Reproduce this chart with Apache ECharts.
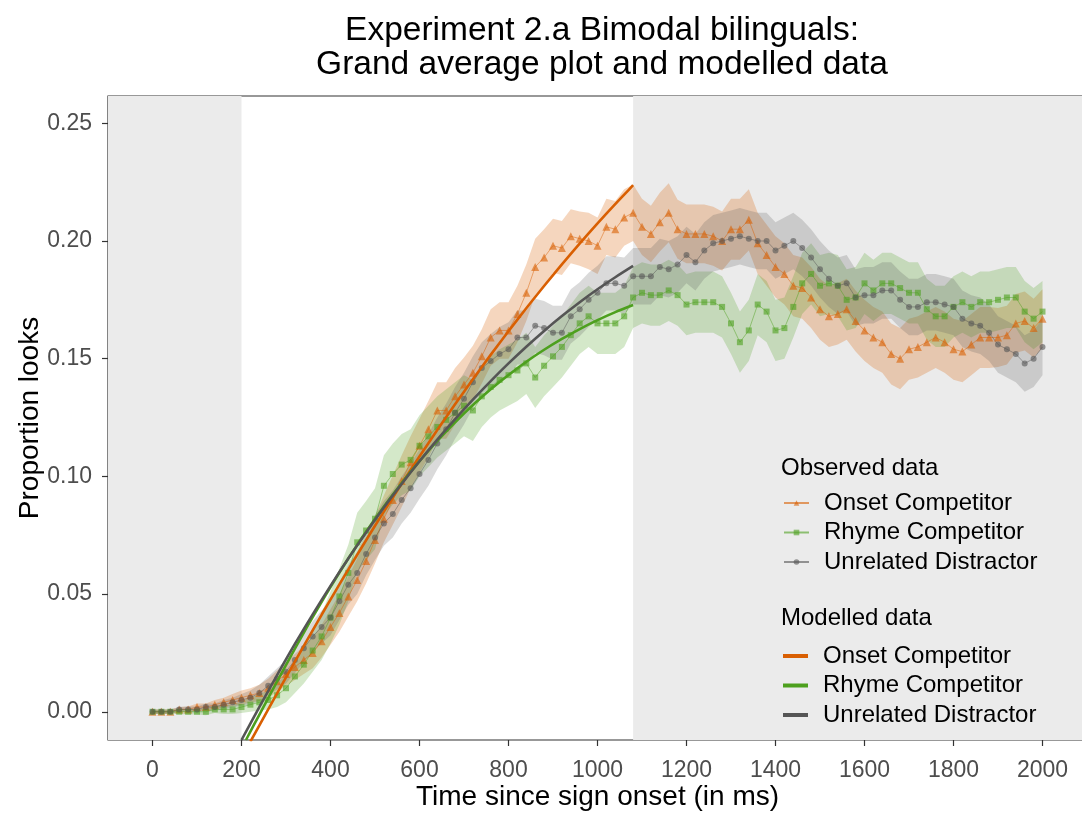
<!DOCTYPE html>
<html>
<head>
<meta charset="utf-8">
<script src="https://cdn.jsdelivr.net/npm/echarts@6.0.0/dist/echarts.min.js"></script>
<style>
  html, body { margin: 0; padding: 0; background: #fff; }
  #chart { width: 1082px; height: 813px; }
</style>
</head>
<body>
<div id="chart"></div>
<script>
// time bins of the observed data (ms)
var obsTime = [0, 20, 40, 60, 80, 100, 120, 140, 160, 180,
  200, 220, 240, 260, 280, 300, 320, 340, 360, 380,
  400, 420, 440, 460, 480, 500, 520, 540, 560, 580,
  600, 620, 640, 660, 680, 700, 720, 740, 760, 780,
  800, 820, 840, 860, 880, 900, 920, 940, 960, 980,
  1000, 1020, 1040, 1060, 1080, 1100, 1120, 1140, 1160, 1180,
  1200, 1220, 1240, 1260, 1280, 1300, 1320, 1340, 1360, 1380,
  1400, 1420, 1440, 1460, 1480, 1500, 1520, 1540, 1560, 1580,
  1600, 1620, 1640, 1660, 1680, 1700, 1720, 1740, 1760, 1780,
  1800, 1820, 1840, 1860, 1880, 1900, 1920, 1940, 1960, 1980, 2000]

var onsetObs = [0.000, 0.000, 0.000, 0.001, 0.001, 0.002, 0.002, 0.003, 0.004, 0.005,
  0.006, 0.007, 0.008, 0.010, 0.013, 0.016, 0.019, 0.022, 0.025, 0.030,
  0.036, 0.042, 0.049, 0.056, 0.064, 0.073, 0.082, 0.090, 0.098, 0.106,
  0.113, 0.120, 0.128, 0.128, 0.134, 0.139, 0.144, 0.151, 0.159, 0.162,
  0.162, 0.169, 0.178, 0.189, 0.193, 0.198, 0.197, 0.202, 0.201, 0.200,
  0.198, 0.206, 0.205, 0.210, 0.212, 0.206, 0.203, 0.208, 0.212, 0.205,
  0.203, 0.203, 0.203, 0.202, 0.200, 0.205, 0.205, 0.209, 0.199, 0.194,
  0.189, 0.186, 0.181, 0.180, 0.176, 0.171, 0.168, 0.169, 0.171, 0.166,
  0.162, 0.159, 0.157, 0.152, 0.150, 0.154, 0.155, 0.157, 0.159, 0.157,
  0.154, 0.153, 0.156, 0.159, 0.159, 0.159, 0.160, 0.165, 0.166, 0.163, 0.167]

var rhymeObs = [0.000, 0.000, 0.000, 0.000, 0.000, 0.000, 0.000, 0.001, 0.001, 0.001,
  0.002, 0.003, 0.004, 0.005, 0.007, 0.010, 0.015, 0.020, 0.026, 0.032,
  0.040, 0.049, 0.059, 0.072, 0.077, 0.082, 0.096, 0.101, 0.105, 0.107,
  0.113, 0.117, 0.121, 0.124, 0.127, 0.130, 0.128, 0.134, 0.138, 0.141,
  0.143, 0.145, 0.148, 0.142, 0.147, 0.151, 0.155, 0.160, 0.165, 0.168,
  0.165, 0.165, 0.165, 0.168, 0.176, 0.178, 0.177, 0.177, 0.179, 0.177,
  0.173, 0.174, 0.174, 0.174, 0.172, 0.165, 0.157, 0.162, 0.173, 0.170,
  0.162, 0.163, 0.172, 0.182, 0.186, 0.181, 0.182, 0.181, 0.175, 0.176,
  0.182, 0.179, 0.182, 0.182, 0.180, 0.178, 0.178, 0.171, 0.168, 0.168,
  0.172, 0.174, 0.172, 0.174, 0.174, 0.175, 0.176, 0.176, 0.170, 0.167, 0.170]

var unrelObs = [0.000, 0.000, 0.000, 0.001, 0.001, 0.001, 0.002, 0.002, 0.003, 0.004,
  0.005, 0.006, 0.008, 0.011, 0.014, 0.017, 0.022, 0.027, 0.032, 0.036,
  0.040, 0.047, 0.054, 0.059, 0.067, 0.074, 0.080, 0.084, 0.090, 0.095,
  0.101, 0.107, 0.114, 0.120, 0.127, 0.133, 0.140, 0.146, 0.149, 0.152,
  0.154, 0.159, 0.159, 0.164, 0.163, 0.161, 0.161, 0.168, 0.171, 0.175,
  0.178, 0.182, 0.182, 0.181, 0.185, 0.185, 0.185, 0.189, 0.188, 0.190,
  0.194, 0.191, 0.196, 0.199, 0.200, 0.201, 0.202, 0.201, 0.200, 0.200,
  0.196, 0.198, 0.200, 0.197, 0.193, 0.188, 0.184, 0.181, 0.182, 0.176,
  0.177, 0.177, 0.179, 0.179, 0.175, 0.172, 0.172, 0.174, 0.174, 0.173,
  0.172, 0.167, 0.165, 0.164, 0.161, 0.156, 0.154, 0.152, 0.148, 0.150, 0.155]

// standard errors (half width of the ribbons)
var onsetSe = [0.001, 0.001, 0.001, 0.001, 0.0012, 0.0015, 0.0015, 0.002, 0.002, 0.0025,
  0.003, 0.003, 0.0035, 0.004, 0.0045, 0.005, 0.0055, 0.006, 0.0065, 0.007,
  0.0075, 0.008, 0.0085, 0.009, 0.0095, 0.010, 0.010, 0.0105, 0.011, 0.011,
  0.0115, 0.012, 0.012, 0.012, 0.012, 0.0115, 0.0115, 0.0115, 0.012, 0.012,
  0.012, 0.012, 0.012, 0.012, 0.012, 0.0115, 0.0115, 0.0115, 0.0115, 0.012,
  0.012, 0.012, 0.012, 0.012, 0.012, 0.012, 0.012, 0.0125, 0.0125, 0.0125,
  0.0125, 0.0125, 0.0125, 0.0125, 0.0125, 0.013, 0.013, 0.013, 0.013, 0.013,
  0.013, 0.013, 0.013, 0.013, 0.013, 0.013, 0.013, 0.013, 0.013, 0.013,
  0.013, 0.013, 0.013, 0.013, 0.013, 0.013, 0.013, 0.013, 0.013, 0.013,
  0.013, 0.013, 0.013, 0.013, 0.013, 0.0125, 0.0125, 0.0125, 0.0125, 0.0125, 0.0125]

var rhymeSe = [0.001, 0.001, 0.001, 0.001, 0.0012, 0.0012, 0.0015, 0.0015, 0.002, 0.002,
  0.0025, 0.003, 0.0035, 0.004, 0.005, 0.006, 0.007, 0.008, 0.009, 0.010,
  0.011, 0.012, 0.012, 0.0125, 0.0125, 0.013, 0.013, 0.013, 0.013, 0.013,
  0.013, 0.013, 0.013, 0.013, 0.013, 0.013, 0.013, 0.013, 0.013, 0.013,
  0.013, 0.013, 0.013, 0.013, 0.013, 0.013, 0.013, 0.013, 0.013, 0.013,
  0.013, 0.013, 0.013, 0.013, 0.013, 0.013, 0.013, 0.013, 0.013, 0.013,
  0.013, 0.013, 0.013, 0.013, 0.013, 0.013, 0.013, 0.013, 0.013, 0.013,
  0.013, 0.013, 0.013, 0.013, 0.013, 0.013, 0.013, 0.013, 0.013, 0.013,
  0.013, 0.013, 0.013, 0.013, 0.013, 0.013, 0.013, 0.013, 0.013, 0.013,
  0.013, 0.013, 0.013, 0.013, 0.013, 0.013, 0.013, 0.013, 0.013, 0.013, 0.013]

var unrelSe = [0.001, 0.001, 0.001, 0.001, 0.0012, 0.0012, 0.0015, 0.0015, 0.002, 0.002,
  0.0025, 0.003, 0.0035, 0.004, 0.0045, 0.005, 0.0055, 0.006, 0.0065, 0.007,
  0.0075, 0.008, 0.0085, 0.009, 0.009, 0.0095, 0.0095, 0.010, 0.010, 0.0105,
  0.0105, 0.011, 0.011, 0.011, 0.011, 0.011, 0.011, 0.011, 0.0115, 0.0115,
  0.0115, 0.0115, 0.0115, 0.0115, 0.0115, 0.0115, 0.0115, 0.0115, 0.0115, 0.0115,
  0.0115, 0.0115, 0.0115, 0.012, 0.012, 0.012, 0.012, 0.012, 0.012, 0.012,
  0.012, 0.012, 0.012, 0.012, 0.012, 0.012, 0.012, 0.012, 0.012, 0.012,
  0.012, 0.012, 0.012, 0.012, 0.012, 0.012, 0.012, 0.012, 0.012, 0.012,
  0.012, 0.012, 0.012, 0.012, 0.012, 0.012, 0.012, 0.012, 0.012, 0.012,
  0.012, 0.012, 0.012, 0.012, 0.012, 0.012, 0.012, 0.012, 0.012, 0.012, 0.012]

// modelled curves
var onsetModelTime = [220, 260, 300, 340, 380, 420, 460, 500, 540, 580, 620, 660,
  700, 740, 780, 820, 860, 900, 940, 980, 1020, 1060, 1080]
var onsetModel = [-0.0127, 0.0010, 0.0146, 0.0280, 0.0412, 0.0541, 0.0667, 0.0790, 0.0910, 0.1027, 0.1141, 0.1252,
  0.1360, 0.1465, 0.1567, 0.1666, 0.1762, 0.1855, 0.1945, 0.2032, 0.2116, 0.2197, 0.2237]

var rhymeModelTime = [210, 240, 280, 320, 360, 400, 440, 480, 520, 560, 600, 640,
  680, 720, 760, 800, 840, 880, 920, 960, 1000, 1040, 1080]
var rhymeModel = [-0.012, -0.0013, 0.0129, 0.0268, 0.0402, 0.0530, 0.0651, 0.0765, 0.0872, 0.0972, 0.1065, 0.1151,
  0.1230, 0.1303, 0.1370, 0.1431, 0.1487, 0.1538, 0.1584, 0.1626, 0.1664, 0.1698, 0.1728]

var unrelModelTime = [200, 240, 280, 320, 360, 400, 440, 480, 520, 560, 600, 640,
  680, 720, 760, 800, 840, 880, 920, 960, 1000, 1040, 1080]
var unrelModel = [-0.012, 0.002, 0.0156, 0.0288, 0.0414, 0.0535, 0.0651, 0.0762, 0.0868, 0.0968, 0.1064, 0.1156,
  0.1243, 0.1326, 0.1405, 0.1480, 0.1551, 0.1618, 0.1681, 0.1740, 0.1795, 0.1846, 0.1894]

var xTicks = [0, 200, 400, 600, 800, 1000, 1200, 1400, 1600, 1800, 2000]
var yTicks = [0, 0.05, 0.10, 0.15, 0.20, 0.25]
var shadeBefore = [-100, 200]
var shadeAfter = [1080, 2100]

var names = ['Onset Competitor', 'Rhyme Competitor', 'Unrelated Distractor']
var colors = ['#D95F02', '#4DA01E', '#555555']
var ribbonColors = ['rgba(217,95,2,0.26)', 'rgba(77,160,30,0.24)', 'rgba(85,85,85,0.22)']
var symbols = ['triangle', 'rect', 'circle']
var FONT = '"Liberation Sans", Arial, Helvetica, sans-serif'

function pairs (xs, ys) {
  var out = []
  for (var i = 0; i < xs.length; i++) out.push([xs[i], ys[i]])
  return out
}

var obs = [onsetObs, rhymeObs, unrelObs]
var ses = [onsetSe, rhymeSe, unrelSe]
var models = [[onsetModelTime, onsetModel], [rhymeModelTime, rhymeModel], [unrelModelTime, unrelModel]]

// one polygon per ribbon, built from all rows through api.coord
function ribbonRenderer (fill) {
  return function (params, api) {
    if (params.dataIndexInside !== 0) return null
    var n = params.dataInsideLength
    var top = []
    var bottom = []
    for (var j = 0; j < n; j++) {
      var t = api.value(0, j)
      top.push(api.coord([t, api.value(2, j)]))
      bottom.unshift(api.coord([t, api.value(1, j)]))
    }
    return {
      type: 'polygon',
      shape: { points: top.concat(bottom) },
      style: { fill: fill, stroke: null },
      silent: true
    }
  }
}

var series = []
// grey background bands outside the analysis window
series.push({
  type: 'line',
  name: 'window',
  data: [],
  z: 0,
  silent: true,
  markArea: {
    silent: true,
    itemStyle: { color: '#EBEBEB' },
    data: [
      [{ xAxis: shadeBefore[0] }, { xAxis: shadeBefore[1] }],
      [{ xAxis: shadeAfter[0] }, { xAxis: shadeAfter[1] }]
    ]
  }
})
// ribbons (mean +/- se)
for (var k = 0; k < 3; k++) {
  var rows = []
  for (var i = 0; i < obsTime.length; i++) {
    rows.push([obsTime[i], obs[k][i] - ses[k][i], obs[k][i] + ses[k][i]])
  }
  series.push({
    type: 'custom',
    name: 'ribbon-' + k,
    data: rows,
    clip: true,
    silent: true,
    z: 1,
    renderItem: ribbonRenderer(ribbonColors[k])
  })
}
// observed data
for (var k = 0; k < 3; k++) {
  series.push({
    type: 'line',
    name: names[k],
    data: pairs(obsTime, obs[k]),
    symbol: symbols[k],
    symbolSize: k === 0 ? 8 : 6,
    showAllSymbol: true,
    color: colors[k],
    lineStyle: { width: 0.8, opacity: 0.6 },
    itemStyle: { opacity: 0.6 },
    z: 3
  })
}
// modelled data
for (var k = 0; k < 3; k++) {
  series.push({
    type: 'line',
    name: names[k] + ' (model)',
    data: pairs(models[k][0], models[k][1]),
    symbol: 'none',
    smooth: 0.3,
    color: colors[k],
    lineStyle: { width: 2.6 },
    z: 4
  })
}

var chart = echarts.init(document.getElementById('chart'))
chart.setOption({
  animation: false,
  backgroundColor: '#ffffff',
  textStyle: { fontFamily: FONT },
  title: [{
    text: 'Experiment 2.a Bimodal bilinguals:\nGrand average plot and modelled data',
    left: 597,
    top: 9,
    textAlign: 'center',
    textStyle: { fontSize: 33.5, fontWeight: 'normal', color: '#000', lineHeight: 34, fontFamily: FONT }
  }, {
    text: 'Observed data',
    left: 776,
    top: 451,
    textStyle: { fontSize: 24, fontWeight: 'normal', color: '#000', fontFamily: FONT }
  }, {
    text: 'Modelled data',
    left: 776,
    top: 601,
    textStyle: { fontSize: 24, fontWeight: 'normal', color: '#000', fontFamily: FONT }
  }],
  legend: [{
    data: names,
    orient: 'vertical',
    left: 783,
    top: 491,
    padding: 0,
    itemWidth: 25,
    itemHeight: 7,
    itemGap: 5.5,
    selectedMode: false,
    textStyle: { fontSize: 24, color: '#000', fontFamily: FONT, padding: [0, 0, 0, 10] }
  }, {
    data: names.map(function (n, i) {
      return { name: n + ' (model)', icon: 'rect', itemStyle: { color: colors[i] } }
    }),
    orient: 'vertical',
    left: 783,
    top: 644,
    padding: 0,
    itemWidth: 25,
    itemHeight: 4,
    itemGap: 5.5,
    selectedMode: false,
    formatter: function (name) { return name.replace(' (model)', '') },
    textStyle: { fontSize: 24, color: '#000', fontFamily: FONT, padding: [0, 0, 0, 10] }
  }],
  grid: {
    left: 108,
    right: -5,
    top: 96,
    bottom: 73,
    containLabel: false,
    outerBoundsMode: 'none',
    show: true,
    backgroundColor: '#ffffff',
    borderColor: '#333333',
    borderWidth: 1.2
  },
  xAxis: {
    type: 'value',
    min: -100,
    max: 2100,
    name: 'Time since sign onset (in ms)',
    nameLocation: 'middle',
    nameGap: 43,
    nameMoveOverlap: false,
    nameTextStyle: { fontSize: 28, color: '#000', fontFamily: FONT },
    axisLine: { show: false, onZero: false },
    splitLine: { show: false },
    axisTick: { show: true, length: 6, customValues: xTicks, lineStyle: { color: '#333333', width: 1.2 } },
    axisLabel: {
      customValues: xTicks,
      fontSize: 23,
      color: '#4D4D4D',
      margin: 19,
      fontFamily: FONT,
      formatter: function (v) { return String(v) }
    }
  },
  yAxis: {
    type: 'value',
    min: -0.012,
    max: 0.2616,
    name: 'Proportion looks',
    nameLocation: 'middle',
    nameGap: 64,
    nameMoveOverlap: false,
    nameTextStyle: { fontSize: 28, color: '#000', fontFamily: FONT },
    axisLine: { show: false, onZero: false },
    splitLine: { show: false },
    axisTick: { show: true, length: 6, customValues: yTicks, lineStyle: { color: '#333333', width: 1.2 } },
    axisLabel: {
      customValues: yTicks,
      fontSize: 23,
      color: '#4D4D4D',
      margin: 16,
      fontFamily: FONT,
      formatter: function (v) { return v.toFixed(2) }
    }
  },
  series: series
})
</script>
</body>
</html>
